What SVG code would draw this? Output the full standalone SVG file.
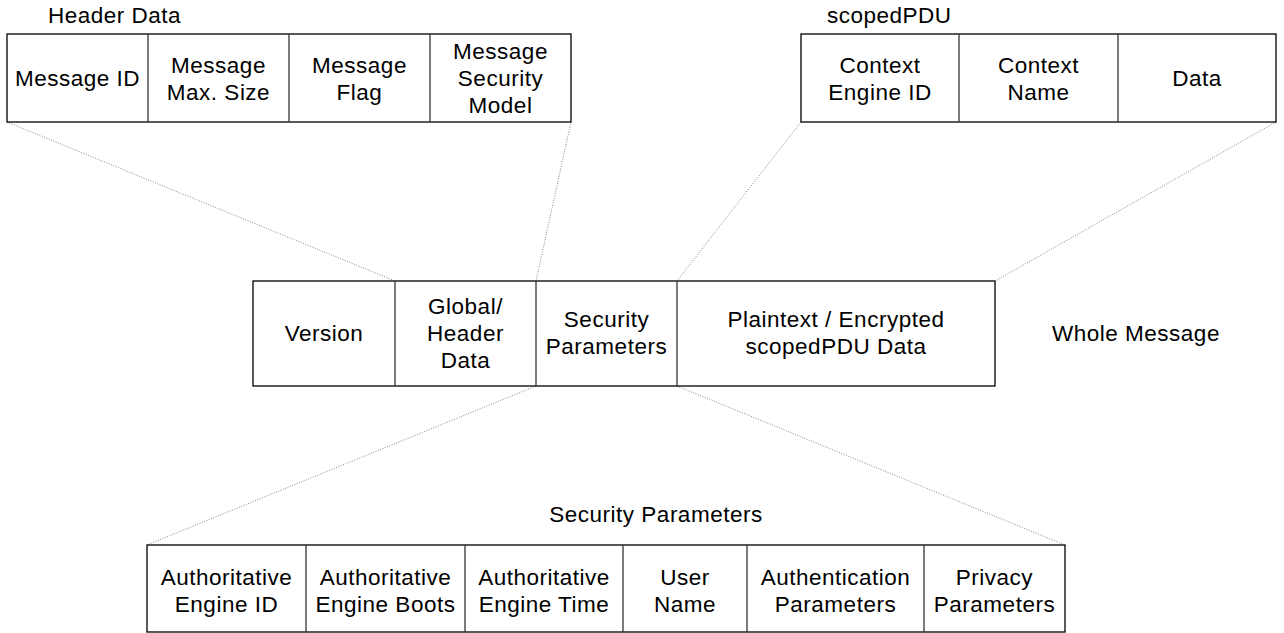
<svg xmlns="http://www.w3.org/2000/svg" width="1284" height="633" viewBox="0 0 1284 633">
<style>
.box{fill:#fff;stroke:#000;stroke-width:1.3}
.div{stroke:#333;stroke-width:1.3}
text{font-family:"Liberation Sans",Arial,sans-serif;font-size:22.5px;letter-spacing:0.5px;fill:#000}
.c{text-anchor:middle}
.conn line{stroke:#888;stroke-width:1;stroke-dasharray:1 1.5}
</style>
<rect width="1284" height="633" fill="#fff"/>
<g class="conn" id="connectors">
<line x1="7" y1="122" x2="395" y2="281"/>
<line x1="571" y1="122" x2="536" y2="281"/>
<line x1="801" y1="122" x2="677" y2="281"/>
<line x1="1276" y1="122" x2="995" y2="281"/>
<line x1="536" y1="386" x2="147" y2="545"/>
<line x1="677" y1="386" x2="1065" y2="545"/>
</g>
<g id="header">
<text x="48" y="23">Header Data</text>
<rect class="box" x="7" y="34" width="564" height="88"/>
<line class="div" x1="148" y1="34" x2="148" y2="122"/>
<line class="div" x1="289" y1="34" x2="289" y2="122"/>
<line class="div" x1="430" y1="34" x2="430" y2="122"/>
<text class="c" x="77.5" y="86">Message ID</text>
<text class="c" x="218.5" y="73">Message</text><text class="c" x="218.5" y="100">Max. Size</text>
<text class="c" x="359.5" y="73">Message</text><text class="c" x="359.5" y="100">Flag</text>
<text class="c" x="500.5" y="59">Message</text><text class="c" x="500.5" y="86">Security</text><text class="c" x="500.5" y="113">Model</text>
</g>
<g id="scopedPDU">
<text x="827" y="23">scopedPDU</text>
<rect class="box" x="801" y="34" width="475" height="88"/>
<line class="div" x1="959" y1="34" x2="959" y2="122"/>
<line class="div" x1="1118" y1="34" x2="1118" y2="122"/>
<text class="c" x="880" y="73">Context</text><text class="c" x="880" y="100">Engine ID</text>
<text class="c" x="1038.5" y="73">Context</text><text class="c" x="1038.5" y="100">Name</text>
<text class="c" x="1197" y="86">Data</text>
</g>
<g id="whole">
<rect class="box" x="253" y="281" width="742" height="105"/>
<line class="div" x1="395" y1="281" x2="395" y2="386"/>
<line class="div" x1="536" y1="281" x2="536" y2="386"/>
<line class="div" x1="677" y1="281" x2="677" y2="386"/>
<text class="c" x="324" y="341">Version</text>
<text class="c" x="465.5" y="314">Global/</text><text class="c" x="465.5" y="341">Header</text><text class="c" x="465.5" y="368">Data</text>
<text class="c" x="606.5" y="327">Security</text><text class="c" x="606.5" y="354">Parameters</text>
<text class="c" x="836" y="327">Plaintext / Encrypted</text><text class="c" x="836" y="354">scopedPDU Data</text>
<text class="c" x="1136" y="341">Whole Message</text>
</g>
<g id="security">
<text class="c" x="656" y="522">Security Parameters</text>
<rect class="box" x="147" y="545" width="918" height="87"/>
<line class="div" x1="306" y1="545" x2="306" y2="632"/>
<line class="div" x1="465" y1="545" x2="465" y2="632"/>
<line class="div" x1="623" y1="545" x2="623" y2="632"/>
<line class="div" x1="747" y1="545" x2="747" y2="632"/>
<line class="div" x1="924" y1="545" x2="924" y2="632"/>
<text class="c" x="226.5" y="585">Authoritative</text><text class="c" x="226.5" y="612">Engine ID</text>
<text class="c" x="385.5" y="585">Authoritative</text><text class="c" x="385.5" y="612">Engine Boots</text>
<text class="c" x="544" y="585">Authoritative</text><text class="c" x="544" y="612">Engine Time</text>
<text class="c" x="685" y="585">User</text><text class="c" x="685" y="612">Name</text>
<text class="c" x="835.5" y="585">Authentication</text><text class="c" x="835.5" y="612">Parameters</text>
<text class="c" x="994.5" y="585">Privacy</text><text class="c" x="994.5" y="612">Parameters</text>
</g>
</svg>
